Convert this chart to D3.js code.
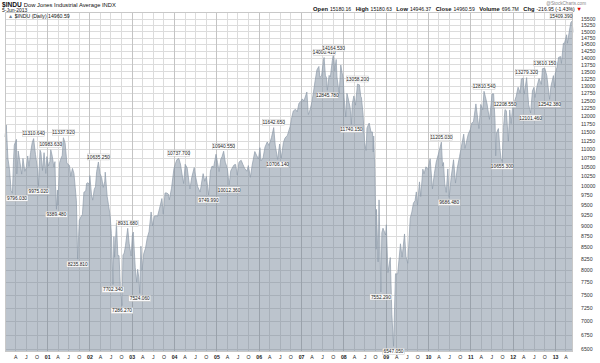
<!DOCTYPE html>
<html>
<head>
<meta charset="utf-8">
<script src="https://cdn.jsdelivr.net/npm/d3@7"></script>
<style>
  html, body { margin: 0; padding: 0; background: #fff; }
  svg { display: block; font-family: "Liberation Sans", Arial, sans-serif; }
</style>
</head>
<body>
<div id="chart"></div>
<script>
// daily closes of $INDU (a few points per month, highs and lows kept)
const y2000 = [["01-03",11357],["01-14",11723],["01-28",10739],["02-11",10425],["02-25",9863],["03-07",9796],["03-16",10630],["03-23",11119],["04-11",11287],["04-14",10306],["04-26",10946],["05-12",10609],["05-26",10300],["06-06",10735],["06-22",10377],["07-05",10484],["07-17",10804],["07-28",10511],["08-11",10908],["08-25",11192],["09-06",11310],["09-22",10847],["10-11",10413],["10-18",9975],["10-31",10971],["11-08",10907],["11-22",10399],["12-05",10898],["12-20",10318],["12-29",10787]];
const y2001 = [["01-05",10662],["01-12",10525],["01-24",10646],["02-01",10983],["02-14",10795],["02-28",10495],["03-09",10644],["03-14",9973],["03-22",9389],["03-30",9879],["04-04",9485],["04-18",10616],["04-30",10735],["05-11",10821],["05-21",11337],["06-05",11175],["06-20",10596],["07-03",10571],["07-12",10539],["07-24",10240],["08-07",10458],["08-20",10320],["08-31",9949],["09-10",9605],["09-21",8235],["10-05",9119],["10-19",9204],["11-01",9263],["11-14",9823],["11-30",9851],["12-07",10049],["12-19",10070],["12-31",10021]];
const y2002 = [["01-04",10259],["01-18",9771],["01-29",9618],["02-11",9891],["02-22",9968],["03-04",10368],["03-19",10635],["04-02",10313],["04-16",10208],["04-30",9946],["05-13",10109],["05-17",10353],["06-03",9709],["06-14",9503],["06-28",9243],["07-09",8813],["07-23",7702],["07-31",8737],["08-06",8274],["08-22",9053],["09-03",8308],["09-13",8312],["09-24",7683],["10-09",7286],["10-17",8322],["10-28",8368],["11-08",8537],["11-27",8931],["12-10",8574],["12-27",8303]];
const y2003 = [["01-06",8773],["01-14",8842],["01-31",8053],["02-13",7749],["02-21",8018],["03-03",7837],["03-11",7524],["03-21",8521],["03-31",7992],["04-14",8351],["04-30",8480],["05-15",8713],["05-30",8850],["06-17",9323],["06-30",8985],["07-14",9219],["07-31",9233],["08-11",9217],["08-29",9415],["09-18",9659],["09-30",9275],["10-15",9803],["10-31",9801],["11-14",9768],["11-21",9628],["12-10",9921],["12-31",10453]];
const y2004 = [["01-14",10600],["01-26",10702],["02-11",10737],["02-25",10580],["03-10",10296],["03-24",10048],["04-06",10570],["04-23",10472],["05-12",10019],["05-17",9906],["06-01",10202],["06-23",10479],["07-06",10219],["07-23",9962],["08-13",9825],["08-31",10173],["09-08",10313],["09-22",10109],["10-06",10239],["10-25",9749],["11-10",10385],["11-24",10520],["12-08",10494],["12-28",10854]];
const y2005 = [["01-10",10621],["01-24",10368],["02-07",10715],["02-18",10785],["03-04",10940],["03-18",10629],["04-05",10458],["04-20",10012],["05-04",10384],["05-16",10464],["06-02",10553],["06-15",10566],["06-30",10275],["07-14",10628],["08-02",10683],["08-18",10559],["09-01",10459],["09-21",10378],["10-03",10535],["10-21",10215],["11-04",10530],["11-28",10931],["12-13",10823],["12-30",10717]];
const y2006 = [["01-11",11043],["01-20",10667],["02-07",10749],["02-24",11061],["03-15",11209],["03-31",11109],["04-21",11347],["05-10",11642],["05-23",11120],["06-13",10706],["06-30",11150],["07-14",10739],["08-02",11199],["08-16",11327],["09-05",11406],["09-29",11679],["10-13",11960],["10-26",12163],["11-14",12218],["11-29",12136],["12-14",12416],["12-29",12463]];
const y2007 = [["01-12",12556],["01-26",12487],["02-20",12786],["03-05",12050],["03-14",12133],["03-30",12354],["04-16",12720],["05-01",13136],["05-18",13556],["06-04",13676],["06-12",13295],["06-27",13337],["07-12",13861],["07-19",14000],["07-30",13358],["08-09",13270],["08-16",12845],["08-31",13357],["09-11",13308],["09-28",13895],["10-09",14164],["10-19",13522],["10-31",13930],["11-07",13300],["11-26",12743],["12-10",13727],["12-21",13450],["12-31",13264]];
const y2008 = [["01-08",12589],["01-22",11971],["02-01",12743],["02-13",12552],["02-29",12266],["03-10",11740],["03-18",12392],["04-01",12654],["04-15",12351],["05-02",13058],["05-19",13028],["05-30",12638],["06-05",12604],["06-19",12063],["07-02",11215],["07-15",10962],["07-23",11632],["08-11",11782],["08-27",11502],["09-08",11510],["09-15",10917],["09-19",11388],["09-29",10365],["10-10",8451],["10-13",9387],["10-27",8175],["11-04",9625],["11-20",7552],["11-28",8829],["12-08",8934],["12-31",8776]];
const y2009 = [["01-06",9015],["01-20",7949],["02-09",8270],["02-23",7114],["03-09",6547],["03-26",7924],["04-14",7920],["05-08",8574],["05-22",8277],["06-12",8799],["06-24",8299],["07-10",8146],["07-31",9171],["08-14",9321],["08-28",9544],["09-11",9605],["09-22",9829],["10-02",9487],["10-19",10092],["10-30",9712],["11-17",10437],["11-27",10309],["12-14",10501],["12-31",10428]];
const y2010 = [["01-19",10725],["02-08",9908],["02-25",10321],["03-12",10624],["03-31",10856],["04-26",11205],["05-06",10520],["05-14",10620],["05-25",10043],["06-07",9816],["06-21",10442],["07-02",9686],["07-20",10229],["08-09",10698],["08-26",10060],["09-10",10462],["09-30",10788],["10-15",11062],["11-05",11444],["11-16",11023],["12-01",11255],["12-15",11457],["12-31",11577]];
const y2011 = [["01-14",11787],["01-28",11823],["02-18",12391],["03-01",12058],["03-16",11613],["04-01",12376],["04-18",12201],["04-29",12810],["05-11",12630],["05-25",12394],["06-15",11897],["06-30",12414],["07-07",12719],["07-21",12724],["08-02",11866],["08-08",10809],["08-15",11482],["08-31",11613],["09-12",11061],["09-22",10733],["10-03",10655],["10-14",11644],["10-27",12208],["11-08",12170],["11-25",11231],["12-07",12196],["12-19",11766],["12-30",12217]];
const y2012 = [["01-13",12422],["01-31",12632],["02-17",12949],["03-06",12759],["03-16",13232],["04-02",13264],["04-10",12715],["05-01",13279],["05-18",12369],["06-04",12101],["06-20",12824],["07-03",12943],["07-12",12604],["07-31",13008],["08-16",13250],["09-05",13047],["09-14",13593],["10-05",13610],["10-22",13345],["11-15",12542],["11-26",12967],["12-07",13155],["12-18",13350],["12-28",12938]];
const y2013 = [["01-02",13412],["01-18",13649],["02-01",14009],["02-19",14035],["02-25",13784],["03-14",14539],["03-22",14512],["04-11",14865],["04-18",14537],["05-03",14973],["05-17",15354],["05-28",15409],["06-05",14960]];

// high / low annotations
const noteDates  = ["2000-03-07","2000-09-06","2000-10-18","2001-02-01","2001-03-22","2001-05-21","2001-09-21","2002-03-19","2002-07-23","2002-10-09","2002-11-27","2003-03-11","2004-02-11","2004-10-25","2005-03-04","2005-04-20","2006-05-10","2006-06-13","2007-07-19","2007-08-16","2007-10-09","2008-03-10","2008-05-02","2008-11-20","2009-03-09","2010-04-26","2010-07-02","2011-04-29","2011-10-03","2011-10-27","2012-05-01","2012-06-04","2012-10-05","2012-11-15","2013-05-28"];
const noteValues = [9796.03,11310.64,9975.02,10983.63,9389.48,11337.92,8235.81,10635.25,7702.34,7286.27,8931.68,7524.06,10737.70,9749.99,10940.55,10012.36,11642.65,10706.14,14000.41,12845.78,14164.53,11740.15,13058.20,7552.29,6547.05,11205.03,9686.48,12810.54,10655.30,12208.55,13279.32,12101.46,13610.15,12542.38,15409.39];
const noteKinds  = ["lo","hi","lo","hi","lo","hi","lo","hi","lo","lo","hi","lo","hi","lo","hi","lo","hi","lo","hi","lo","hi","lo","hi","lo","lo","hi","lo","hi","lo","hi","hi","lo","hi","lo","hi"];

const yTicks = [6500,6750,7000,7250,7500,7750,8000,8250,8500,8750,9000,9250,9500,9750,10000,10250,10500,10750,11000,11250,11500,11750,12000,12250,12500,12750,13000,13250,13500,13750,14000,14250,14500,14750,15000,15250,15500];
const monthLetters = {3: "A", 6: "J", 9: "O"};

const W = 600, H = 363;
const plotL = 5, plotR = 573, plotT = 12, plotB = 352;

const parse = d3.timeParse("%Y-%m-%d");
const years = [[2000,y2000],[2001,y2001],[2002,y2002],[2003,y2003],[2004,y2004],[2005,y2005],[2006,y2006],[2007,y2007],[2008,y2008],[2009,y2009],[2010,y2010],[2011,y2011],[2012,y2012],[2013,y2013]];
const series = [];
years.forEach(([yr, rows]) => rows.forEach(r => series.push({date: parse(`${yr}-${r[0]}`), v: r[1]})));

const x = d3.scaleTime().domain([parse("2000-01-03"), parse("2013-06-05")]).range([plotL, plotR]);
const y = d3.scaleLog().domain([6449, 15783]).range([plotB, plotT]);

const svg = d3.select("#chart").append("svg").attr("width", W).attr("height", H);

// grid
const grid = svg.append("g");
const quarters = d3.timeMonth.every(3).range(parse("2000-04-01"), parse("2013-06-05"));
grid.selectAll("line.h").data(yTicks).enter().append("line")
    .attr("x1", plotL).attr("x2", plotR)
    .attr("y1", d => Math.round(y(d)) + 0.5).attr("y2", d => Math.round(y(d)) + 0.5)
    .attr("stroke", "#dcdcdc").attr("stroke-width", 1);
grid.selectAll("line.v").data(quarters).enter().append("line")
    .attr("x1", d => Math.round(x(d)) + 0.5).attr("x2", d => Math.round(x(d)) + 0.5)
    .attr("y1", plotT).attr("y2", plotB)
    .attr("stroke", d => d.getMonth() === 0 ? "#c4c4c4" : "#dcdcdc").attr("stroke-width", 1);

// price area
const area = d3.area().x(d => x(d.date)).y0(plotB).y1(d => y(d.v));
const line = d3.line().x(d => x(d.date)).y(d => y(d.v));
svg.append("path").datum(series).attr("d", area)
    .attr("fill", "rgb(100,118,140)").attr("fill-opacity", 0.43);
svg.append("path").datum(series).attr("d", line)
    .attr("fill", "none").attr("stroke", "#8f9cab").attr("stroke-width", 0.7);

// frame
svg.append("rect").attr("x", plotL + 0.5).attr("y", plotT + 0.5)
    .attr("width", plotR - plotL - 1).attr("height", plotB - plotT - 1)
    .attr("fill", "none").attr("stroke", "#c8c8c8");

// y axis on the right
const yAxis = svg.append("g").attr("transform", `translate(${plotR},0)`)
    .call(d3.axisRight(y).tickValues(yTicks).tickFormat(d3.format("d")).tickSize(0).tickPadding(8));
yAxis.select(".domain").remove();
yAxis.selectAll("text").attr("font-size", 5.2).attr("fill", "#333").attr("font-family", "Liberation Sans, Arial, sans-serif");

// x axis
const xAxis = svg.append("g").attr("transform", `translate(0,${plotB})`)
    .call(d3.axisBottom(x).tickValues(quarters).tickSize(0).tickPadding(3)
        .tickFormat(d => d.getMonth() === 0 ? d3.timeFormat("%y")(d) : monthLetters[d.getMonth()]));
xAxis.select(".domain").remove();
xAxis.selectAll("text").attr("font-size", 5.2).attr("fill", "#222")
    .attr("font-family", "Liberation Sans, Arial, sans-serif")
    .attr("font-weight", d => d.getMonth() === 0 ? "bold" : "normal");

// annotations
const notes = svg.append("g");
noteDates.forEach((ds, i) => {
    const px = x(parse(ds)), py = y(noteValues[i]);
    const label = noteValues[i].toFixed(3);
    const w = 22, h = 6;
    const cx = Math.max(plotL + w / 2 + 1, Math.min(plotR - w / 2 - 1, px));
    const cy = noteKinds[i] === "hi" ? py - 5 : py + 5;
    notes.append("rect").attr("x", cx - w / 2).attr("y", cy - h / 2).attr("width", w).attr("height", h)
        .attr("fill", "#fff").attr("fill-opacity", 0.9).attr("stroke", "#b8b8b8").attr("stroke-width", 0.4);
    notes.append("text").attr("x", cx).attr("y", cy + 1.7).attr("text-anchor", "middle")
        .attr("font-size", 4.8).attr("fill", "#222").text(label);
});

// header
const head = svg.append("g").attr("fill", "#111");
const t1 = head.append("text").attr("x", 2).attr("y", 6.5).attr("font-size", 5.8);
t1.append("tspan").attr("font-weight", "bold").attr("font-size", 6.6).text("$INDU");
t1.append("tspan").attr("dx", 2).text("Dow Jones Industrial Average INDX");
head.append("text").attr("x", 2).attr("y", 12).attr("font-size", 5).text("5-Jun-2013");
const t3 = head.append("text").attr("x", 8).attr("y", 18).attr("font-size", 5.2);
t3.append("tspan").attr("fill", "#6b7a8c").text("▲");
t3.append("tspan").attr("dx", 1.5).text("$INDU (Daily) 14960.59");

head.append("text").attr("x", 586).attr("y", 4.5).attr("text-anchor", "end")
    .attr("font-size", 4.6).attr("fill", "#888").text("@StockCharts.com");
const quote = [["Open", "15180.16"], ["High", "15180.63"], ["Low", "14946.37"], ["Close", "14960.59"], ["Volume", "696.7M"], ["Chg", "-216.95 (-1.43%)"]];
const t2 = head.append("text").attr("x", 582).attr("y", 11).attr("text-anchor", "end").attr("font-size", 5.8);
quote.forEach(([k, v], i) => {
    t2.append("tspan").attr("font-weight", "bold").attr("dx", i ? 4.5 : 0).text(k);
    t2.append("tspan").attr("dx", 2).attr("font-size", 5.1).text(v);
});
t2.append("tspan").attr("dx", 1.5).attr("fill", "#d00").text("▼");
</script>
</body>
</html>
